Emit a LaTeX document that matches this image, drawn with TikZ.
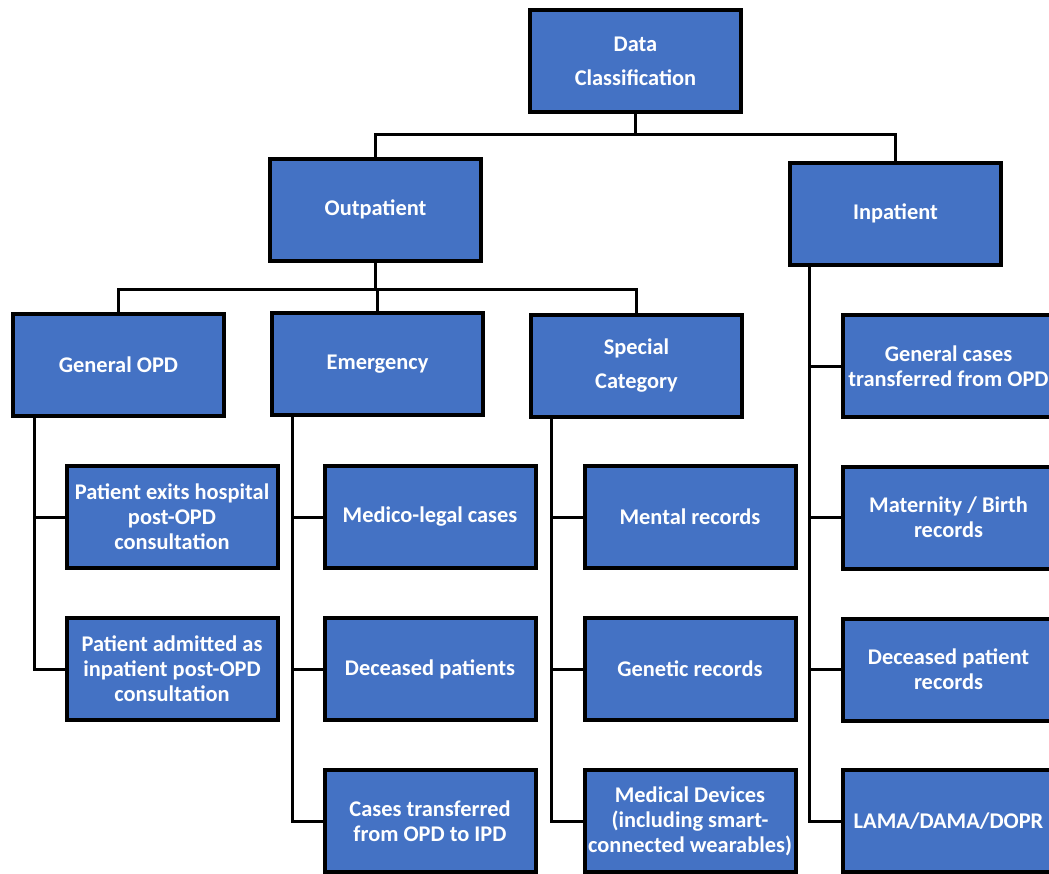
\documentclass[tikz,border=0pt]{standalone}
\usepackage{fontspec}
\setmainfont{Carlito}
\usetikzlibrary{positioning}
\definecolor{boxblue}{HTML}{4472C4}
\tikzstyle{catbox} = [rectangle, draw=black, line width=3pt, fill=boxblue, text=white, minimum width=158.25pt, minimum height=76.5pt, inner sep=0pt, align=center, font=\fontsize{16.8}{18.75}\selectfont\bfseries]
\tikzstyle{link} = [line width=2.25pt, black]

\begin{document}
\begin{tikzpicture}[x=0.75pt, y=-0.75pt]
            \useasboundingbox (0,0) rectangle (1049,874);
            \clip (0,0) rectangle (1049,874);
            % top levels
            \node [catbox] at (635.5,61) (dc) {Data\\[7pt]Classification};
            \node [catbox] at (375.5,209.5) (out) {Outpatient};
            \node [catbox] at (895.5,213.5) (inp) {Inpatient};
            \node [catbox] at (118.5,365) (gopd) {General OPD};
            \node [catbox] at (377.5,364) (emer) {Emergency};
            \node [catbox] at (636.5,365.5) (spec) {Special\\[7pt]Category};
            % general OPD
            \node [catbox] at (172,517) (gopd1) {Patient exits hospital\\post-OPD\\consultation};
            \node [catbox] at (172,669) (gopd2) {Patient admitted as\\inpatient post-OPD\\consultation};
            % emergency
            \node [catbox] at (430,517) (emer1) {Medico-legal cases};
            \node [catbox] at (430,669) (emer2) {Deceased patients};
            \node [catbox] at (430,821) (emer3) {Cases transferred\\from OPD to IPD};
            % special category
            \node [catbox] at (690,517) (spec1) {Mental records};
            \node [catbox] at (690,669) (spec2) {Genetic records};
            \node [catbox] at (690,821) (spec3) {Medical Devices\\(including smart-\\connected wearables)};
            % inpatient
            \node [catbox] at (948.5,366) (inp1) {General cases\\transferred from OPD};
            \node [catbox] at (948.5,517.5) (inp2) {Maternity / Birth\\records};
            \node [catbox] at (948.5,669.5) (inp3) {Deceased patient\\records};
            \node [catbox] at (948.5,821) (inp4) {LAMA/DAMA/DOPR};
            % connectors
            \draw [link] (dc.south) -- ++(0,20) -| (out.north);
            \draw [link] (dc.south) -- ++(0,20) -| (inp.north);
            \draw [link] (out.south) -- ++(0,27) -| (gopd.north);
            \draw [link] (out.south) -- ++(0,27) -| (emer.north);
            \draw [link] (out.south) -- ++(0,27) -| (spec.north);
            \draw [link] (gopd.south west) ++(23,0) |- (gopd1.west);
            \draw [link] (gopd.south west) ++(23,0) |- (gopd2.west);
            \draw [link] (emer.south west) ++(22,0) |- (emer1.west);
            \draw [link] (emer.south west) ++(22,0) |- (emer2.west);
            \draw [link] (emer.south west) ++(22,0) |- (emer3.west);
            \draw [link] (spec.south west) ++(22,0) |- (spec1.west);
            \draw [link] (spec.south west) ++(22,0) |- (spec2.west);
            \draw [link] (spec.south west) ++(22,0) |- (spec3.west);
            \draw [link] (inp.south west) ++(21,0) |- (inp1.west);
            \draw [link] (inp.south west) ++(21,0) |- (inp2.west);
            \draw [link] (inp.south west) ++(21,0) |- (inp3.west);
            \draw [link] (inp.south west) ++(21,0) |- (inp4.west);
            \end{tikzpicture}
\end{document}
